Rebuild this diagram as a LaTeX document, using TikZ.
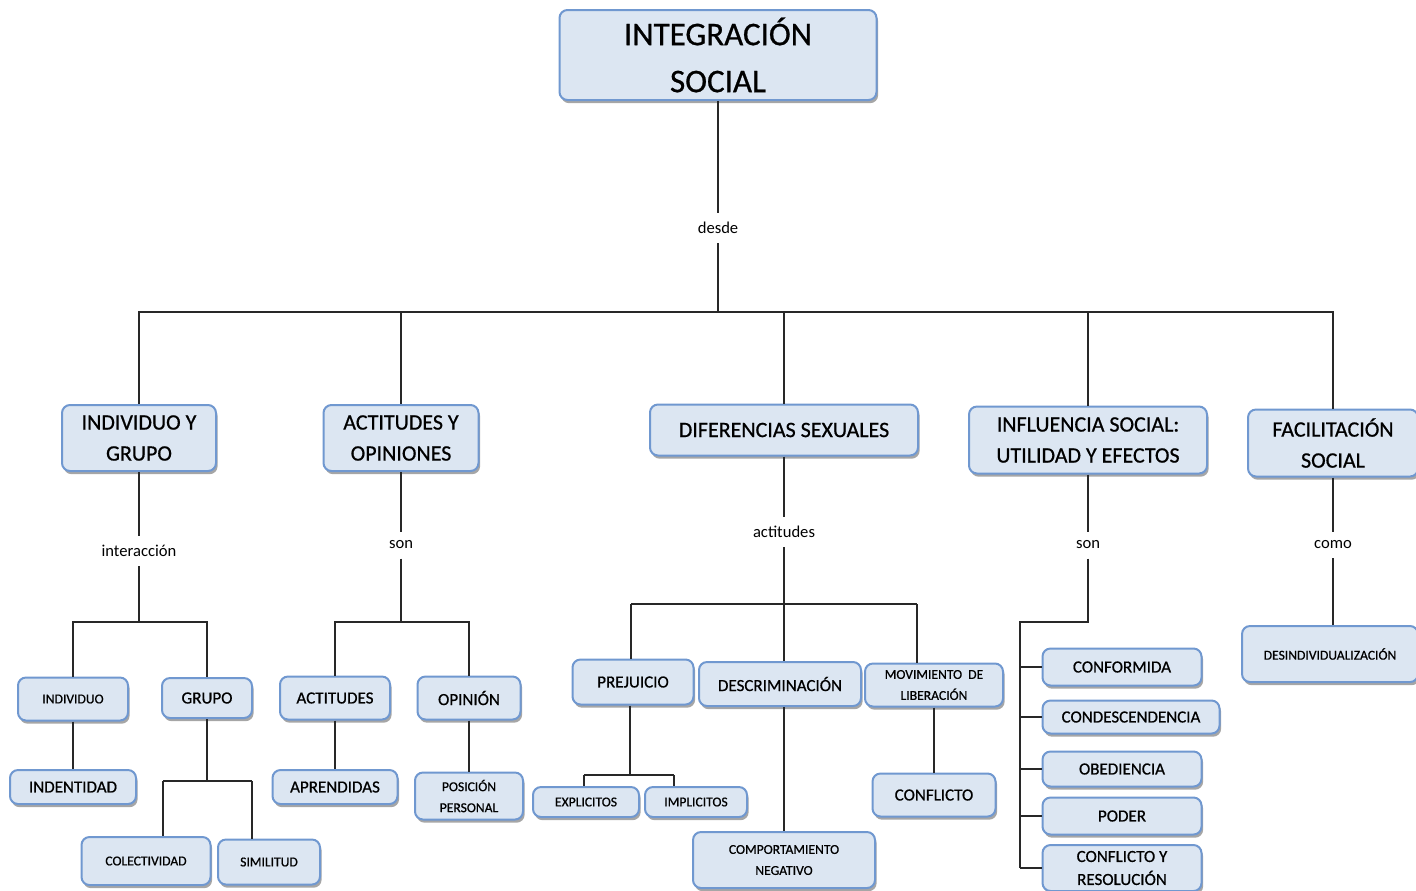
\documentclass[tikz,border=0pt]{standalone}
\usepackage{fontspec}
\setmainfont{Carlito}
\newfontfamily\boxfont{Carlito}[FakeBold = 0.7]
\usetikzlibrary{shadows}
\definecolor{boxfill}{RGB}{220,230,242}
\definecolor{boxline}{RGB}{112,152,208}
\definecolor{wirecol}{RGB}{40,40,40}

\begin{document}
\begin{tikzpicture}[x = 0.5pt, y = -0.5pt,
	concept/.style = {draw = boxline, fill = boxfill, line width = 1pt, rounded corners = 4pt, align = center, inner sep = 1pt, text = black,
		drop shadow = {shadow xshift = 0.8pt, shadow yshift = -1.6pt, opacity = 0.35, fill = black}},
	wh/.style 2 args = {minimum width = #1*0.5pt, minimum height = #2*0.5pt},
	cbig/.style = {concept, font = \boxfont\fontsize{16.5}{23.5}\selectfont},
	cmid/.style = {concept, font = \boxfont\fontsize{11}{15.5}\selectfont},
	csub/.style = {concept, font = \boxfont\fontsize{8.5}{11.5}\selectfont},
	csmall/.style = {concept, font = \boxfont\fontsize{6.8}{10.5}\selectfont},
	linklabel/.style = {font = \fontsize{8.3}{10}\selectfont, inner sep = 4.5pt},
	wire/.style = {draw = wirecol, line width = 0.9pt}]
				%	achtergrond
				\fill[white] (0, 0) rectangle (1416, 890);
				\useasboundingbox (0, 0) rectangle (1416, 890);
				
				%	hoofdbegrip
				\node[cbig, wh = {317}{90}] (root) at (718, 55) {INTEGRACIÓN\\SOCIAL};
				\node[linklabel] (desde) at (718, 228) {desde};
				\coordinate (j0) at (718, 312);
				
				%	tweede niveau
				\node[cmid, wh = {154}{66}] (indgru) at (139, 438) {INDIVIDUO Y\\GRUPO};
				\node[cmid, wh = {155}{66}] (actopi) at (401, 438) {ACTITUDES Y\\OPINIONES};
				\node[cmid, wh = {268}{51}] (difsex) at (784, 430) {DIFERENCIAS SEXUALES};
				\node[cmid, wh = {238}{67}] (infsoc) at (1088, 440) {INFLUENCIA SOCIAL:\\UTILIDAD Y EFECTOS};
				\node[cmid, wh = {170}{67}] (facsoc) at (1333, 443) {FACILITACIÓN\\SOCIAL};
				
				%	verbindingswoorden
				\node[linklabel] (interac) at (139, 551) {interacción};
				\node[linklabel] (son1) at (401, 545) {son};
				\node[linklabel] (actit) at (784, 532) {actitudes};
				\node[linklabel] (son2) at (1088, 545) {son};
				\node[linklabel] (como) at (1333, 545) {como};
				
				%	knooppunten
				\coordinate (j1) at (139, 622);
				\coordinate (j2) at (401, 622);
				\coordinate (j3) at (784, 604);
				\coordinate (j4) at (1088, 622);
				\coordinate (k0) at (1020, 622);
				\coordinate (g0) at (207, 781);
				\coordinate (g1) at (163, 781);
				\coordinate (g2) at (252, 781);
				\coordinate (p1) at (631, 604);
				\coordinate (p2) at (917, 604);
				\coordinate (e0) at (630, 775);
				\coordinate (e1) at (584, 775);
				\coordinate (e2) at (674, 775);
				
				%	individuo y grupo
				\node[csmall, wh = {110}{43}] (indiv) at (73, 699) {INDIVIDUO};
				\node[csub, wh = {90}{40}] (grupo) at (207, 698) {GRUPO};
				\node[csub, wh = {126}{34}] (ident) at (73, 787) {INDENTIDAD};
				\node[csmall, wh = {129}{48}] (colec) at (146, 861) {COLECTIVIDAD};
				\node[csmall, wh = {102}{45}] (simil) at (269, 862) {SIMILITUD};
				
				%	actitudes y opiniones
				\node[csub, wh = {110}{43}] (actd) at (335, 698) {ACTITUDES};
				\node[csub, wh = {103}{43}] (opin) at (469, 698) {OPINIÓN};
				\node[csub, wh = {125}{34}] (apren) at (335, 787) {APRENDIDAS};
				\node[csmall, wh = {108}{47}] (posic) at (469, 796) {POSICIÓN\\PERSONAL};
				
				%	diferencias sexuales
				\node[csub, wh = {121}{45}] (prej) at (633, 682) {PREJUICIO};
				\node[csub, wh = {162}{44}] (descr) at (780, 684) {DESCRIMINACIÓN};
				\node[csmall, wh = {138}{43}] (movim) at (934, 685) {MOVIMIENTO\ \ DE\\LIBERACIÓN};
				\node[csmall, wh = {106}{30}] (expl) at (586, 802) {EXPLICITOS};
				\node[csmall, wh = {102}{30}] (impl) at (696, 802) {IMPLICITOS};
				\node[csmall, wh = {182}{56}] (compor) at (784, 860) {COMPORTAMIENTO\\NEGATIVO};
				\node[csub, wh = {123}{43}] (confl) at (934, 795) {CONFLICTO};
				
				%	influencia social
				\node[csub, wh = {159}{37}] (conform) at (1122, 667) {CONFORMIDA};
				\node[csub, wh = {177}{33}] (condes) at (1131, 717) {CONDESCENDENCIA};
				\node[csub, wh = {159}{35}] (obed) at (1122, 769) {OBEDIENCIA};
				\node[csub, wh = {159}{37}] (poder) at (1122, 816) {PODER};
				\node[csub, wh = {159}{46}] (conres) at (1122, 868) {CONFLICTO Y\\RESOLUCIÓN};
				
				%	facilitación social
				\node[csmall, wh = {176}{56}] (desind) at (1330, 654) {DESINDIVIDUALIZACIÓN};
				
				%	lijnen bovenaan
				\draw[wire] (root) -- (desde) -- (j0);
				\draw[wire] (j0) -| (indgru);
				\draw[wire] (j0) -| (actopi);
				\draw[wire] (j0) -| (difsex);
				\draw[wire] (j0) -| (infsoc);
				\draw[wire] (j0) -| (facsoc);
				
				%	lijnen links
				\draw[wire] (indgru) -- (interac) -- (j1);
				\draw[wire] (j1) -| (indiv);
				\draw[wire] (j1) -| (grupo);
				\draw[wire] (indiv) -- (ident);
				\draw[wire] (grupo) -- (g0);
				\draw[wire] (g1) -- (g2);
				\draw[wire] (g1) -- (g1 |- colec.north);
				\draw[wire] (g2) -- (g2 |- simil.north);
				\draw[wire] (actopi) -- (son1) -- (j2);
				\draw[wire] (j2) -| (actd);
				\draw[wire] (j2) -| (opin);
				\draw[wire] (actd) -- (apren);
				\draw[wire] (opin) -- (posic);
				
				%	lijnen midden
				\draw[wire] (difsex) -- (actit) -- (j3);
				\draw[wire] (p1) -- (p2);
				\draw[wire] (p1) -- (p1 |- prej.north);
				\draw[wire] (j3) -- (j3 |- descr.north);
				\draw[wire] (p2) -- (p2 |- movim.north);
				\draw[wire] (e0 |- prej.south) -- (e0);
				\draw[wire] (e1) -- (e2);
				\draw[wire] (e1) -- (e1 |- expl.north);
				\draw[wire] (e2) -- (e2 |- impl.north);
				\draw[wire] (j3 |- descr.south) -- (j3 |- compor.north);
				\draw[wire] (movim) -- (confl);
				
				%	lijnen rechts
				\draw[wire] (infsoc) -- (son2) -- (j4) -- (k0) -- (k0 |- conres);
				\foreach \n in {conform, condes, obed, poder, conres}
					\draw[wire] (k0 |- \n) -- (\n);
				\draw[wire] (facsoc) -- (como) -- (como |- desind.north);
\end{tikzpicture}
\end{document}
